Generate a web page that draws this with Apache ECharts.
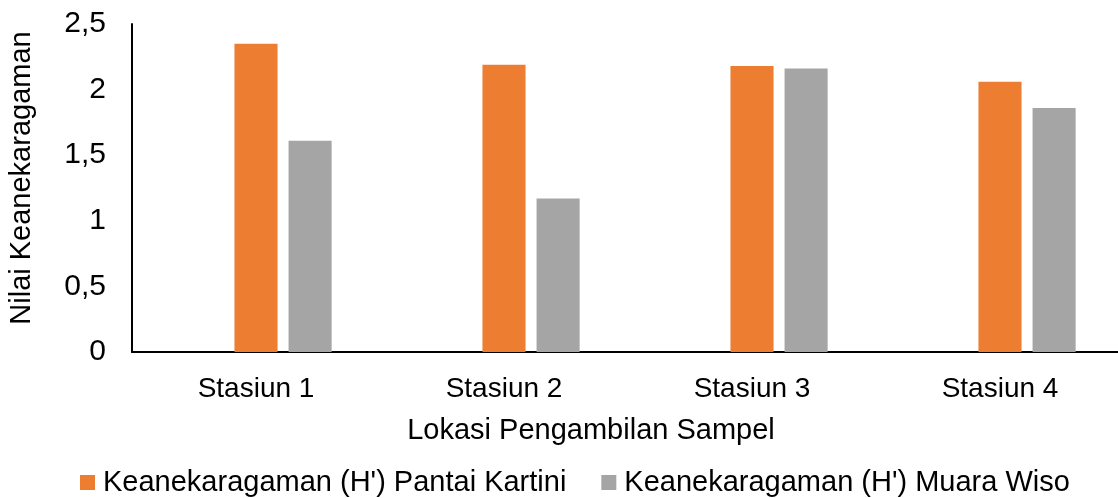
<!DOCTYPE html>
<html>
<head>
<meta charset="utf-8">
<script src="https://cdn.jsdelivr.net/npm/echarts@6/dist/echarts.min.js"></script>
<style>
  html, body { margin: 0; padding: 0; background: #fff; overflow: hidden; }
  #chart { width: 1118px; height: 498px; }
</style>
</head>
<body>
<div id="chart"></div>
<script>
const FONT = "Liberation Sans, Arial, sans-serif";
const TEXT_COLOR = "#000";

const stations = ["Stasiun 1", "Stasiun 2", "Stasiun 3", "Stasiun 4"];
const pantaiKartini = [2.35, 2.19, 2.18, 2.06];
const muaraWiso = [1.61, 1.17, 2.16, 1.86];
// Empty first series in the source sheet: it keeps its slot, so the bars sit right of centre.
const emptySeries = [null, null, null, null];
const yTicks = [0, 0.5, 1, 1.5, 2, 2.5];

const chart = echarts.init(document.getElementById("chart"), undefined, { renderer: "canvas" });

chart.setOption({
  animation: false,
  textStyle: { fontFamily: FONT },
  // axis runs a little past the right edge in the source image
  grid: { top: 24, left: 132, width: 992, bottom: 146, outerBoundsMode: "none" },
  legend: {
    data: ["Keanekaragaman (H') Pantai Kartini", "Keanekaragaman (H') Muara Wiso"],
    left: 75,
    top: 463,
    icon: "rect",
    itemWidth: 15,
    itemHeight: 15,
    itemGap: 35,
    textStyle: { color: TEXT_COLOR, fontFamily: FONT, fontSize: 29, padding: [0, 0, 0, 3] },
  },
  xAxis: {
    type: "category",
    data: stations,
    name: "Lokasi Pengambilan Sampel",
    nameLocation: "middle",
    nameGap: 64,
    nameTextStyle: { color: TEXT_COLOR, fontFamily: FONT, fontSize: 29, padding: [0, 74, 0, 0] },
    axisLine: { lineStyle: { color: "#000", width: 2 } },
    axisTick: { show: false },
    axisLabel: { color: TEXT_COLOR, fontFamily: FONT, fontSize: 28, margin: 23 },
  },
  yAxis: {
    type: "value",
    min: yTicks[0],
    max: yTicks[yTicks.length - 1],
    interval: 0.5,
    name: "Nilai Keanekaragaman",
    nameLocation: "middle",
    nameRotate: 90,
    nameGap: 96,
    nameTextStyle: { color: TEXT_COLOR, fontFamily: FONT, fontSize: 29, padding: [0, 0, 0, 20] },
    axisLine: { show: true, lineStyle: { color: "#000", width: 2 } },
    axisTick: { show: false },
    splitLine: { show: false },
    axisLabel: {
      color: TEXT_COLOR,
      fontFamily: FONT,
      fontSize: 30,
      margin: 26,
      formatter: (v) => String(v).replace(".", ","),
    },
  },
  series: [
    {
      name: "empty",
      type: "bar",
      data: emptySeries,
      barCategoryGap: "39%",
      barGap: "25.6%",
    },
    {
      name: "Keanekaragaman (H') Pantai Kartini",
      type: "bar",
      data: pantaiKartini,
      itemStyle: { color: "#ED7D31" },
      barCategoryGap: "39%",
      barGap: "25.6%",
    },
    {
      name: "Keanekaragaman (H') Muara Wiso",
      type: "bar",
      data: muaraWiso,
      itemStyle: { color: "#A5A5A5" },
      barCategoryGap: "39%",
      barGap: "25.6%",
    },
  ],
});
</script>
</body>
</html>
